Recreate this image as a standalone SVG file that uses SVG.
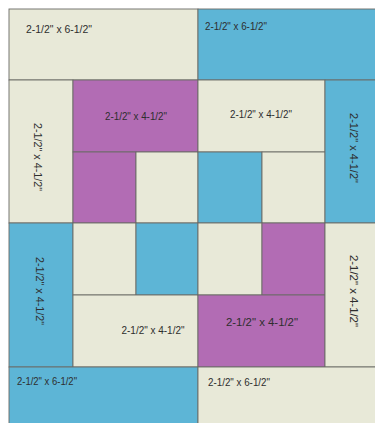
<svg xmlns="http://www.w3.org/2000/svg" width="375" height="423" viewBox="0 0 375 423">
<style>
.c{fill:#e8e9d8;stroke:#6a6a66;stroke-width:0.9}
.b{fill:#5db5d6;stroke:#6a6a66;stroke-width:0.9}
.p{fill:#b26cb4;stroke:#6a6a66;stroke-width:0.9}
text{font-family:"Liberation Sans",Arial,sans-serif;font-size:10px;fill:#2e2e2e}
.m{text-anchor:middle}
</style>
<rect width="375" height="423" fill="#ffffff"/>
<g id="top-left"><rect class="c" x="9" y="9" width="189" height="71"/><text x="26" y="33" textLength="66" lengthAdjust="spacingAndGlyphs">2-1/2" x 6-1/2"</text></g>
<g id="top-right"><rect class="b" x="198" y="9" width="180" height="71"/><text x="205" y="30" textLength="62" lengthAdjust="spacingAndGlyphs">2-1/2" x 6-1/2"</text></g>
<g id="left-upper"><rect class="c" x="9" y="80" width="64" height="143"/><text class="m" transform="translate(34,157) rotate(90)" textLength="68" lengthAdjust="spacingAndGlyphs">2-1/2" x 4-1/2"</text></g>
<g id="purple-top"><rect class="p" x="73" y="80" width="125" height="72"/><text class="m" x="136" y="120" textLength="62" lengthAdjust="spacingAndGlyphs">2-1/2" x 4-1/2"</text></g>
<g id="purple-sq"><rect class="p" x="73" y="152" width="63" height="71"/></g>
<g id="cream-sq1"><rect class="c" x="136" y="152" width="62" height="71"/></g>
<g id="cream-top"><rect class="c" x="198" y="80" width="127" height="72"/><text class="m" x="261" y="118" textLength="62" lengthAdjust="spacingAndGlyphs">2-1/2" x 4-1/2"</text></g>
<g id="blue-sq1"><rect class="b" x="198" y="152" width="64" height="71"/></g>
<g id="cream-sq2"><rect class="c" x="262" y="152" width="63" height="71"/></g>
<g id="right-upper"><rect class="b" x="325" y="80" width="53" height="143"/><text class="m" transform="translate(350,148) rotate(90)" textLength="70" lengthAdjust="spacingAndGlyphs">2-1/2" x 4-1/2"</text></g>
<g id="left-lower"><rect class="b" x="9" y="223" width="64" height="144"/><text class="m" transform="translate(36,291) rotate(90)" textLength="68" lengthAdjust="spacingAndGlyphs">2-1/2" x 4-1/2"</text></g>
<g id="cream-sq3"><rect class="c" x="73" y="223" width="63" height="72"/></g>
<g id="blue-sq2"><rect class="b" x="136" y="223" width="62" height="72"/></g>
<g id="cream-bottom"><rect class="c" x="73" y="295" width="125" height="72"/><text class="m" x="153" y="334" textLength="63" lengthAdjust="spacingAndGlyphs">2-1/2" x 4-1/2"</text></g>
<g id="cream-sq4"><rect class="c" x="198" y="223" width="64" height="72"/></g>
<g id="purple-sq2"><rect class="p" x="262" y="223" width="63" height="72"/></g>
<g id="purple-bottom"><rect class="p" x="198" y="295" width="127" height="72"/><text class="m" x="262" y="326" textLength="72" lengthAdjust="spacingAndGlyphs">2-1/2" x 4-1/2"</text></g>
<g id="right-lower"><rect class="c" x="325" y="223" width="53" height="144"/><text class="m" transform="translate(350,291) rotate(90)" textLength="72" lengthAdjust="spacingAndGlyphs">2-1/2" x 4-1/2"</text></g>
<g id="bottom-left"><rect class="b" x="9" y="367" width="189" height="60"/><text x="17" y="385" textLength="60" lengthAdjust="spacingAndGlyphs">2-1/2" x 6-1/2"</text></g>
<g id="bottom-right"><rect class="c" x="198" y="367" width="180" height="60"/><text x="208" y="386" textLength="62" lengthAdjust="spacingAndGlyphs">2-1/2" x 6-1/2"</text></g>
<g id="connectors"/>
</svg>
